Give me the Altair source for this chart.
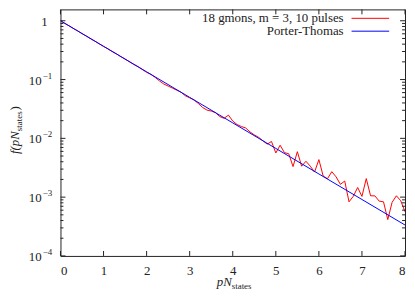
import altair as alt
import pandas as pd

# ---- data ----
x_vals = [0.0, 0.1, 0.2, 0.3, 0.4, 0.5, 0.6, 0.7, 0.8, 0.9,
          1.0, 1.1, 1.2, 1.3, 1.4, 1.5, 1.6, 1.7, 1.8, 1.9,
          2.0, 2.1, 2.2, 2.3, 2.4, 2.5, 2.6, 2.7, 2.8, 2.9,
          3.0, 3.1, 3.2, 3.3, 3.4, 3.5, 3.6, 3.7, 3.8, 3.9,
          4.0, 4.1, 4.2, 4.3, 4.4, 4.5, 4.6, 4.7, 4.8, 4.9,
          5.0, 5.1, 5.2, 5.3, 5.4, 5.5, 5.6, 5.7, 5.8, 5.9,
          6.0, 6.1, 6.2, 6.3, 6.4, 6.5, 6.6, 6.7, 6.8, 6.9,
          7.0, 7.1, 7.2, 7.3, 7.4, 7.5, 7.6, 7.7, 7.8, 7.9,
          8.0]
gmon_f = [1.000, 0.904, 0.820, 0.739, 0.672, 0.604, 0.550, 0.495, 0.450, 0.405,
          0.366, 0.334, 0.300, 0.274, 0.245, 0.223, 0.201, 0.181, 0.166, 0.148,
          0.1328, 0.1225, 0.1087, 0.0946, 0.0839, 0.0774, 0.0715, 0.0659, 0.0608, 0.0529,
          0.0489, 0.0450, 0.0392, 0.0335, 0.0303, 0.0291, 0.0273, 0.0234, 0.0219, 0.0248,
          0.01971, 0.01717, 0.0159, 0.01501, 0.01287, 0.01146, 0.01041, 0.00910, 0.00797, 0.00884,
          0.00564, 0.00764, 0.00572, 0.00547, 0.00331, 0.00593, 0.00336, 0.00408, 0.00336, 0.00267,
          0.00435, 0.00228, 0.00206, 0.00271, 0.00221, 0.00165, 0.00188, 0.000832, 0.001036, 0.00146,
          0.001029, 0.002067, 0.001055, 0.001051, 0.000856, 0.000834, 0.000415, 0.000816, 0.001055, 0.00087,
          0.000565]

pt_x = [0, 1, 2, 3, 4, 5, 6, 7, 8]
pt_f = [1.0, 0.3679, 0.1353, 0.04979, 0.01832, 0.006738, 0.002479, 0.000912, 0.0003355]

x_major = [0, 1, 2, 3, 4, 5, 6, 7, 8]
y_major = [1e-4, 1e-3, 1e-2, 1e-1, 1.0]
y_pow = [1e-4, 1e-3, 1e-2, 1e-1]
y_pow_exp = ["−4", "−3", "−2", "−1"]
y_minor = [m * d for d in (1e-4, 1e-3, 1e-2, 1e-1) for m in (2, 3, 4, 5, 6, 7, 8, 9)]

legend_labels = ["18 gmons, m = 3, 10 pulses", "Porter-Thomas"]
series_colors = ["#ff0000", "#0000ff"]

FONT = "Liberation Serif"
TXT = "#222"
W, H = 348, 249

df_red = pd.DataFrame({"x": x_vals, "y": gmon_f})
df_pt = pd.DataFrame({"x": pt_x, "y": pt_f})
df_xt = pd.DataFrame({"x": x_major})
df_ymaj = pd.DataFrame({"y": y_major})
df_ymin = pd.DataFrame({"y": y_minor})
df_pow = pd.DataFrame({"y": y_pow, "e": y_pow_exp})
df_one_lab = pd.DataFrame({"y": [1.0]})
one = pd.DataFrame({"a": [0]})

xs = alt.Scale(domain=[0, 8], nice=False, zero=False)
ys = alt.Scale(type="log", domain=[1e-4, 1.56], nice=False)

xaxis = alt.Axis(values=x_major, ticks=False, domain=False, grid=False, title=None,
                 labelFont=FONT, labelFontSize=13, labelColor=TXT, labelPadding=9,
                 format="d")
yaxis = alt.Axis(values=y_major, ticks=False, domain=False, grid=False, title=None,
                 labels=False)

X = alt.X("x:Q", scale=xs, axis=xaxis)
Y = alt.Y("y:Q", scale=ys, axis=yaxis)

red = alt.Chart(df_red).mark_line(color=series_colors[0], strokeWidth=1, clip=True).encode(x=X, y=Y)
blue = alt.Chart(df_pt).mark_line(color=series_colors[1], strokeWidth=1, clip=True).encode(x=X, y=Y)

tick_style = dict(color=TXT, strokeWidth=1)
xt_bot = alt.Chart(df_xt).mark_rule(**tick_style).encode(x=X, y=alt.value(H), y2=alt.value(H - 5))
xt_top = alt.Chart(df_xt).mark_rule(**tick_style).encode(x=X, y=alt.value(0), y2=alt.value(5))
yt_l = alt.Chart(df_ymaj).mark_rule(**tick_style).encode(y=Y, x=alt.value(0), x2=alt.value(5))
yt_r = alt.Chart(df_ymaj).mark_rule(**tick_style).encode(y=Y, x=alt.value(W), x2=alt.value(W - 5))
ym_l = alt.Chart(df_ymin).mark_rule(**tick_style).encode(y=Y, x=alt.value(0), x2=alt.value(3))
ym_r = alt.Chart(df_ymin).mark_rule(**tick_style).encode(y=Y, x=alt.value(W), x2=alt.value(W - 3))

# y tick labels as 10 with a raised exponent
ylab_base = alt.Chart(df_pow).mark_text(align="right", baseline="middle", font=FONT,
                                        fontSize=13, color=TXT, text="10", dy=1).encode(
    y=Y, x=alt.value(-19))
ylab_exp = alt.Chart(df_pow).mark_text(align="left", baseline="middle", font=FONT,
                                       fontSize=9, color=TXT, dy=-4).encode(
    y=Y, x=alt.value(-18), text="e:N")
ylab_one = alt.Chart(df_one_lab).mark_text(align="right", baseline="middle", font=FONT,
                                           fontSize=13, color=TXT, text="1", dy=1).encode(
    y=Y, x=alt.value(-13))

# legend (drawn inside the plot, labels to the left of the line samples)
leg = []
for i, (lab, col) in enumerate(zip(legend_labels, series_colors)):
    yy = 9 + 13 * i
    leg.append(alt.Chart(one).mark_text(align="right", baseline="middle", font=FONT,
                                        fontSize=13, color=TXT, text=lab)
               .encode(x=alt.value(286), y=alt.value(yy)))
    leg.append(alt.Chart(one).mark_rule(color=col, strokeWidth=1)
               .encode(x=alt.value(294), x2=alt.value(332), y=alt.value(yy)))

# axis titles
titles = [
    alt.Chart(one).mark_text(align="right", baseline="alphabetic", font=FONT, fontSize=13,
                             fontStyle="italic", color=TXT, text="pN")
    .encode(x=alt.value(173), y=alt.value(279)),
    alt.Chart(one).mark_text(align="left", baseline="alphabetic", font=FONT, fontSize=9,
                             color=TXT, text="states")
    .encode(x=alt.value(173), y=alt.value(282)),
    alt.Chart(one).mark_text(align="right", baseline="alphabetic", font=FONT, fontSize=13,
                             fontStyle="italic", color=TXT, text="f(pN", angle=270)
    .encode(x=alt.value(-42), y=alt.value(123)),
    alt.Chart(one).mark_text(align="left", baseline="alphabetic", font=FONT, fontSize=9,
                             color=TXT, text="states", angle=270)
    .encode(x=alt.value(-39), y=alt.value(123)),
    alt.Chart(one).mark_text(align="left", baseline="alphabetic", font=FONT, fontSize=13,
                             color=TXT, text=")", angle=270)
    .encode(x=alt.value(-42), y=alt.value(102)),
]

chart = alt.layer(red, blue, xt_bot, xt_top, yt_l, yt_r, ym_l, ym_r,
                  ylab_base, ylab_exp, ylab_one, *leg, *titles).properties(
    width=W, height=H,
    autosize=alt.AutoSizeParams(type="none"),
    padding={"left": 53, "top": 0, "right": 2, "bottom": 34},
).configure_view(stroke=TXT, strokeWidth=1)

chart.save("out.html", embed_options={"renderer": "svg", "actions": False})
